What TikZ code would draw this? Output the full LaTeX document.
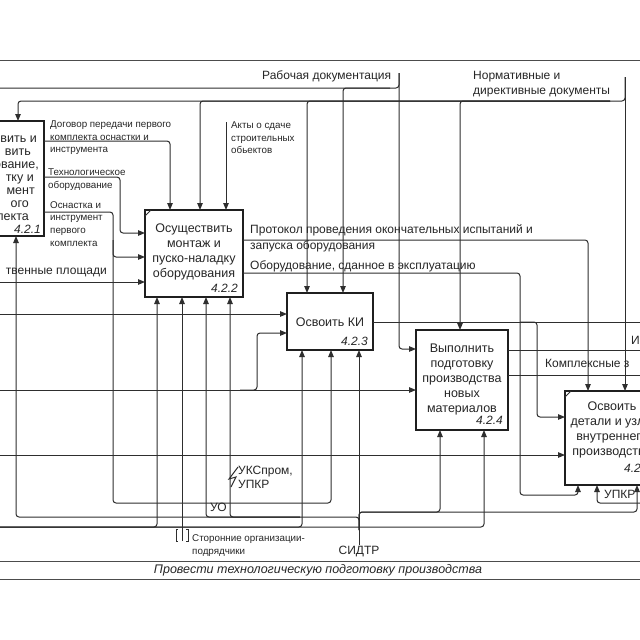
\documentclass[tikz,border=0pt]{standalone}
\usepackage{fontspec}
\setmainfont{Liberation Sans}
\usetikzlibrary{arrows.meta}
\tikzset{
  ln/.style={draw=black!82, line width=1pt, rounded corners=3pt},
  arr/.style={ln, -{Triangle[length=7pt,width=5.5pt]}},
  frm/.style={draw=black!70, line width=1pt},
  box/.style={draw=black!88, line width=1.9pt, fill=white, anchor=north west, inner sep=0pt, outer sep=0pt},
  lbl/.style={font=\fontsize{12}{14}\selectfont, text=black!85, inner sep=0pt},
  sml/.style={font=\fontsize{9.8}{12}\selectfont, text=black!85, inner sep=0pt},
  btx/.style={font=\fontsize{12.5}{15}\selectfont, text=black!85, inner sep=0pt, align=center},
  num/.style={font=\fontsize{12}{14}\selectfont\itshape, text=black!85, inner sep=0pt, anchor=base east},
}
\begin{document}
\begin{tikzpicture}[x=1pt,y=-1pt]
\useasboundingbox (0,0) rectangle (640,640);
\clip (0,0) rectangle (640,640);
\fill[white] (0,0) rectangle (640,640);

% frame
\draw[frm] (-5,60) -- (645,60);
\draw[frm] (-5,561) -- (645,561);
\draw[frm] (-5,579) -- (645,579);

% boxes
\node[box, minimum width=114pt, minimum height=115pt] (b1) at (-70,121) {};
\node[box, minimum width=98pt, minimum height=87pt] (b2) at (145,210) {};
\node[box, minimum width=86pt, minimum height=57pt] (b3) at (287,293) {};
\node[box, minimum width=92pt, minimum height=100pt] (b4) at (416,330) {};
\node[box, minimum width=100pt, minimum height=94pt] (b5) at (565,391) {};
\draw[ln, rounded corners=0pt] ([yshift=-6pt]b2.north west) -- ([xshift=6pt]b2.north west);
\draw[ln, rounded corners=0pt] ([yshift=-6pt]b5.north west) -- ([xshift=6pt]b5.north west);

% box texts
\node[btx, anchor=base east] (t1a) at (37,142) {вить и};
\node[btx, anchor=base east] (t1b) at (31,155) {вить};
\node[btx, anchor=base east] (t1c) at (39,168) {ование,};
\node[btx, anchor=base east] (t1d) at (34,181) {тку и};
\node[btx, anchor=base east] (t1e) at (35,194) {мент};
\node[btx, anchor=base east] (t1f) at (29,207) {ого};
\node[btx, anchor=base east] (t1g) at (29,220) {лекта};
\node[num] (n1) at (41,233) {4.2.1};

\node[btx] (t2) at (194,252) {Осуществить\\монтаж и\\пуско-наладку\\оборудования};
\node[num] (n2) at (238,292) {4.2.2};
\node[btx] (t3) at (330,322) {Освоить КИ};
\node[num] (n3) at (368,345) {4.2.3};
\node[btx] (t4) at (462,379) {Выполнить\\подготовку\\производства\\новых\\материалов};
\node[num] (n4) at (503,424) {4.2.4};
\node[btx] (t5) at (612,430) {Освоить\\детали и узлы\\внутреннего\\производства};
\node[num] (n5) at (651,472) {4.2.5};

% controls from top
\coordinate (rd) at (399,73);
\coordinate (rdL) at (-5,88);
\draw[arr] (rd) |- (b4.west |- 0,349);
\draw[ln] (rd) |- (rdL);
\draw[arr] (390,88) -| (343,0 |- b3.north);

\coordinate (nd) at (625,77);
\draw[arr] (nd) -- (625,0 |- b5.north);
\draw[arr] (nd) |- (18,101) -- (18,0 |- b1.north);
\draw[arr] (610,101) -| (200,0 |- b2.north);
\draw[arr] (610,101) -| (307,0 |- b3.north);
\draw[arr] (610,101) -| (460,0 |- b4.north);

% outputs of 4.2.1
\draw[arr] (b1.east |- 0,141) -| (170,0 |- b2.north);
\draw[arr] (b1.east |- 0,177) -| (120,205) |- (b2.west |- 0,233);
\draw[arr] (b1.east |- 0,212) -| (113,235) |- (b2.west |- 0,257);
\draw[arr] (113,240) |- (250,503) -| (331,0 |- b3.south);
\coordinate (akt) at (226,122);
\draw[arr] (akt) -- (226,0 |- b2.north);

% inputs from the left
\coordinate (inA) at (-5,282);
\coordinate (inB) at (-5,314);
\coordinate (inC) at (-5,390);
\coordinate (inD) at (-5,455);
\draw[arr] (inA) -- (b2.west |- inA);
\draw[arr] (inB) -- (b3.west |- inB);
\draw[arr] (inC) -- (b4.west |- inC);
\draw[arr] (inD) -- (b5.west |- inD);
\draw[arr] (240,390) -| (257,360) |- (b3.west |- 0,333);

% outputs
\coordinate (oA) at (645,322);
\coordinate (oB) at (645,350);
\coordinate (oC) at (645,375);
\draw[arr] (b2.east |- 0,240) -| (588,0 |- b5.north);
\draw[arr] (b2.east |- 0,273) -| (520,400) |- (560,495) -| (578,0 |- b5.south);
\draw[ln] (b3.east |- oA) -- (oA);
\draw[arr] (520,322) -| (537,380) |- (b5.west |- 0,417);
\draw[ln] (b4.east |- oB) -- (oB);
\draw[ln] (b4.east |- oC) -- (oC);

% mechanisms
\node[lbl] (sidtr) at (359,551) {СИДТР};
\draw[arr] (sidtr.north) -- (359,0 |- b3.south);
\draw[arr] (359,530) |- (200,517) -| (16,0 |- b1.south);
\draw[arr] (300,517) -| (230,0 |- b2.south);
\draw[arr] (300,517) -| (206,0 |- b2.south);
\draw[arr] (359,530) |- (400,512) -| (440,0 |- b4.south);
\draw[arr] (359,530) |- (600,512) -| (637,0 |- b5.south);
\coordinate (mL) at (-5,527);
\draw[arr] (mL) -| (157,0 |- b2.south);
\draw[arr] (mL) -| (302,0 |- b3.south);
\draw[arr] (mL) -| (484,0 |- b4.south);
\coordinate (sto) at (182,541);
\draw[arr] (sto) -- (182,0 |- b2.south);
\draw[ln, rounded corners=0pt] (178,529) -- (176,529) -- (176,541) -- (178,541);
\draw[ln, rounded corners=0pt] (186,529) -- (188,529) -- (188,541) -- (186,541);
\coordinate (upkrR) at (645,503);
\draw[arr] (upkrR) -| (597,0 |- b5.south);
\draw[ln, rounded corners=0pt] (238,467) -- (229,479) -- (236,477) -- (231,487);

% labels
\node[lbl, anchor=base west] (l1) at (262,79) {Рабочая документация};
\node[lbl, anchor=base west] (l2) at (473,79) {Нормативные и};
\node[lbl, anchor=base west] (l3) at (473,94) {директивные документы};
\node[sml, anchor=base west] (l4) at (50,127) {Договор передачи первого};
\node[sml, anchor=base west] (l5) at (50,140) {комплекта оснастки и};
\node[sml, anchor=base west] (l6) at (50,152.5) {инструмента};
\node[sml, anchor=base west] (l7) at (48,175.5) {Технологическое};
\node[sml, anchor=base west] (l8) at (48,188) {оборудование};
\node[sml, anchor=base west] (l9) at (50,208.5) {Оснастка и};
\node[sml, anchor=base west] (l10) at (50,220.5) {инструмент};
\node[sml, anchor=base west] (l11) at (50,233.5) {первого};
\node[sml, anchor=base west] (l12) at (50,246.5) {комплекта};
\node[sml, anchor=base west] (l13) at (231,128.5) {Акты о сдаче};
\node[sml, anchor=base west] (l14) at (231,141.5) {строительных};
\node[sml, anchor=base west] (l15) at (231,153.5) {обьектов};
\node[lbl, anchor=base west] (l16) at (250,233) {Протокол проведения окончательных испытаний и};
\node[lbl, anchor=base west] (l17) at (250,249) {запуска оборудования};
\node[lbl, anchor=base west] (l18) at (250,269) {Оборудование, сданное в эксплуатацию};
\node[lbl, anchor=base east] (l19) at (107,274) {твенные площади};
\node[lbl, anchor=base west] (l20) at (631,344) {И};
\node[lbl, anchor=base west] (l21) at (545,367) {Комплексные з};
\node[lbl, anchor=base west] (l22) at (238,474) {УКСпром,};
\node[lbl, anchor=base west] (l23) at (238,488) {УПКР};
\node[lbl, anchor=base west] (l24) at (210,511) {УО};
\node[lbl, anchor=base west] (l25) at (604,498) {УПКР};
\node[sml, anchor=base west] (l26) at (192,541.5) {Сторонние организации-};
\node[sml, anchor=base west] (l27) at (192,554.5) {подрядчики};
\node[lbl, font=\fontsize{12.5}{14}\selectfont\itshape] (title) at (318,570) {Провести технологическую подготовку производства};
\end{tikzpicture}
\end{document}
